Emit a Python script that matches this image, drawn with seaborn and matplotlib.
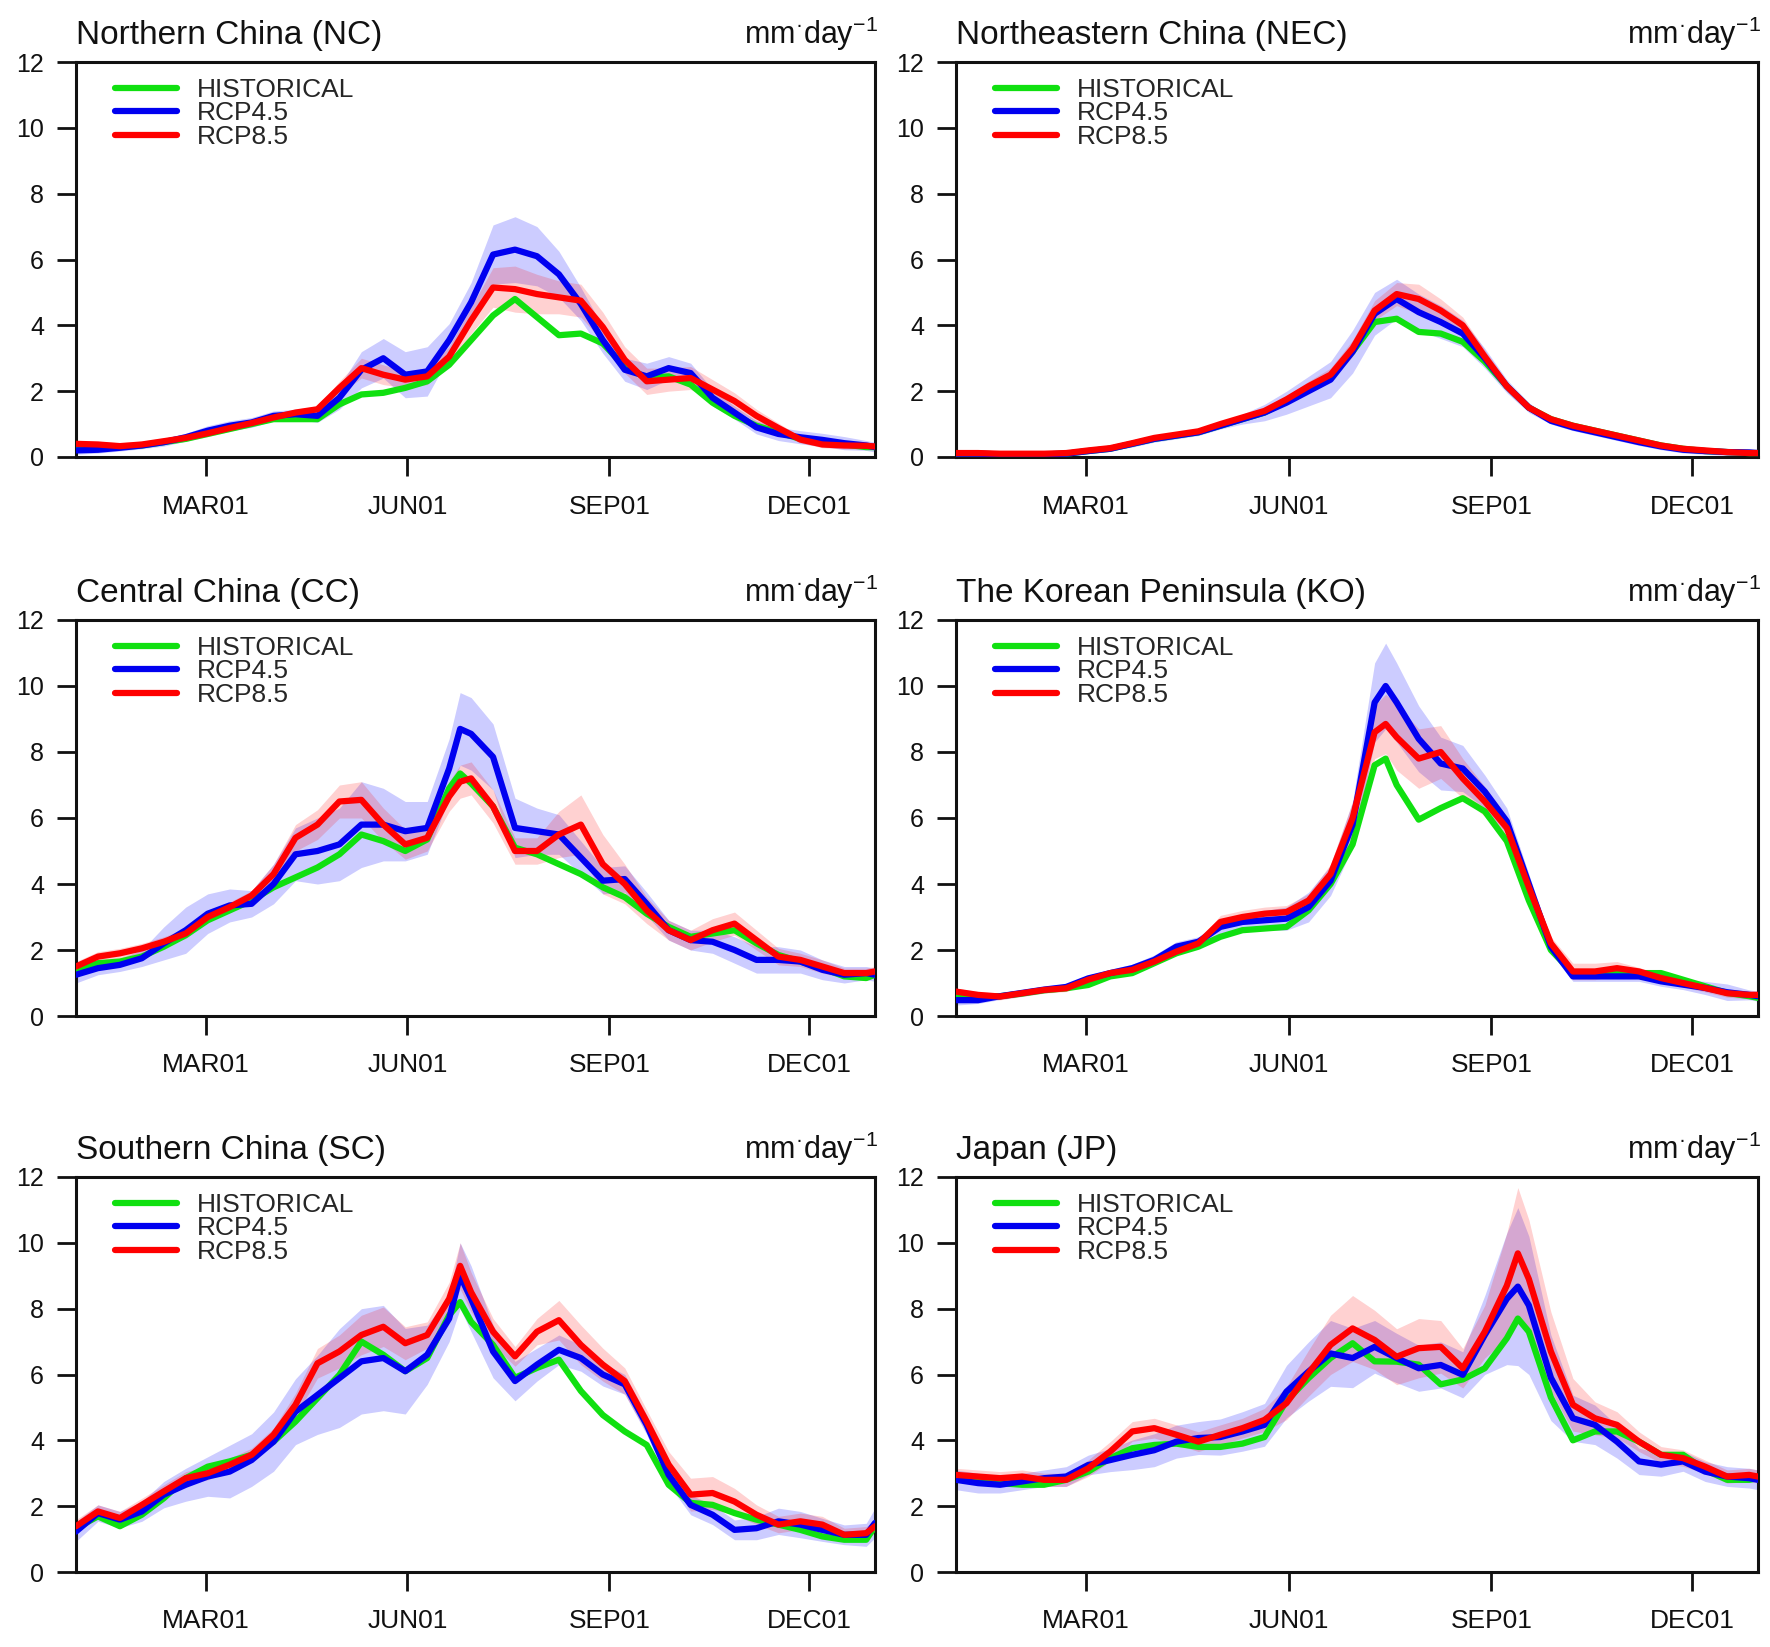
import numpy as np
import pandas as pd
import matplotlib
matplotlib.use("Agg")
import matplotlib.pyplot as plt
from matplotlib.lines import Line2D
import seaborn as sns

sns.set_style("ticks")
plt.rcParams["font.family"] = ["Liberation Sans", "DejaVu Sans"]
plt.rcParams["mathtext.fontset"] = "custom"
plt.rcParams["mathtext.rm"] = "Liberation Sans"
plt.rcParams["mathtext.default"] = "regular"

# ---------------- data (day of year, Jan01 = 0; values in mm/day) ----------------
SCENARIOS = ["HISTORICAL", "RCP4.5", "RCP8.5"]
COLORS = ["#10e010", "#0000f0", "#ff0000"]
TICK_DAYS = [59, 151, 243, 334]
TICK_LABELS = ["MAR01", "JUN01", "SEP01", "DEC01"]
Y_TICKS = [0, 2, 4, 6, 8, 10, 12]

DAYS = [0, 10, 20, 30, 40, 50, 60, 70, 80, 90, 100, 110, 120, 130, 140, 150, 160, 170,
        180, 190, 200, 210, 220, 230, 240, 250, 260, 270, 280, 290, 300, 310, 320, 330,
        340, 350, 360, 364]
DAYS_175 = [0, 10, 20, 30, 40, 50, 60, 70, 80, 90, 100, 110, 120, 130, 140, 150, 160, 170,
            175, 180, 190, 200, 210, 220, 230, 240, 250, 260, 270, 280, 290, 300, 310, 320,
            330, 340, 350, 360, 364]
DAYS_195 = [0, 10, 20, 30, 40, 50, 60, 70, 80, 90, 100, 110, 120, 130, 140, 150, 160, 170,
            180, 190, 195, 200, 210, 220, 230, 240, 250, 260, 270, 280, 290, 300, 310, 320,
            330, 340, 350, 360, 364]
DAYS_255 = [0, 10, 20, 30, 40, 50, 60, 70, 80, 90, 100, 110, 120, 130, 140, 150, 160, 170,
            180, 190, 200, 210, 220, 230, 240, 250, 255, 260, 270, 280, 290, 300, 310, 320,
            330, 340, 350, 360, 364]

# Northern China
nc_hist = [0.3, 0.3, 0.3, 0.35, 0.45, 0.55, 0.7, 0.85, 1.0, 1.15, 1.15, 1.15, 1.6, 1.9, 1.95, 2.1,
           2.3, 2.8, 3.55, 4.3, 4.8, 4.25, 3.7, 3.75, 3.45, 2.75, 2.4, 2.45, 2.2, 1.65, 1.25, 0.95,
           0.75, 0.55, 0.45, 0.38, 0.3, 0.3]
nc_rcp45 = [0.2, 0.22, 0.28, 0.35, 0.45, 0.6, 0.8, 0.95, 1.05, 1.25, 1.3, 1.25, 1.8, 2.65, 3.0, 2.5,
            2.6, 3.55, 4.7, 6.15, 6.3, 6.1, 5.55, 4.65, 3.55, 2.65, 2.45, 2.7, 2.55, 1.8, 1.35, 0.9,
            0.7, 0.6, 0.52, 0.42, 0.35, 0.3]
nc_rcp85 = [0.4, 0.38, 0.33, 0.38, 0.48, 0.58, 0.72, 0.88, 1.03, 1.2, 1.35, 1.45, 2.1, 2.7, 2.5, 2.35,
            2.45, 3.05, 4.15, 5.15, 5.1, 4.95, 4.85, 4.75, 3.95, 2.95, 2.3, 2.35, 2.4, 2.05, 1.7, 1.25,
            0.88, 0.53, 0.38, 0.35, 0.34, 0.32]
nc_sd45 = [0.12, 0.1, 0.1, 0.1, 0.12, 0.12, 0.15, 0.15, 0.15, 0.15, 0.15, 0.2, 0.35, 0.55, 0.6, 0.7,
           0.75, 0.5, 0.6, 0.9, 1.0, 0.9, 0.7, 0.5, 0.4, 0.35, 0.4, 0.35, 0.3, 0.25, 0.2, 0.2,
           0.2, 0.2, 0.2, 0.2, 0.15, 0.15]
nc_sd85 = [0.1, 0.1, 0.1, 0.1, 0.1, 0.1, 0.1, 0.1, 0.1, 0.1, 0.1, 0.1, 0.2, 0.3, 0.3, 0.25,
           0.25, 0.3, 0.4, 0.6, 0.7, 0.6, 0.5, 0.5, 0.45, 0.4, 0.4, 0.35, 0.35, 0.3, 0.25, 0.2,
           0.15, 0.1, 0.1, 0.1, 0.1, 0.1]

# Northeastern China
nec_hist = [0.1, 0.1, 0.08, 0.08, 0.08, 0.1, 0.18, 0.25, 0.4, 0.55, 0.65, 0.75, 0.95, 1.15, 1.35, 1.7,
            2.1, 2.45, 3.2, 4.1, 4.2, 3.8, 3.75, 3.5, 2.9, 2.15, 1.5, 1.15, 0.95, 0.8, 0.65, 0.5,
            0.35, 0.25, 0.18, 0.15, 0.12, 0.12]
nec_rcp45 = [0.1, 0.1, 0.08, 0.08, 0.08, 0.1, 0.18, 0.25, 0.4, 0.55, 0.65, 0.75, 0.95, 1.15, 1.35, 1.65,
             2.0, 2.35, 3.2, 4.35, 4.8, 4.4, 4.1, 3.75, 3.0, 2.15, 1.5, 1.1, 0.9, 0.75, 0.6, 0.45,
             0.32, 0.22, 0.18, 0.15, 0.14, 0.12]
nec_rcp85 = [0.12, 0.12, 0.1, 0.1, 0.1, 0.12, 0.2, 0.27, 0.42, 0.58, 0.68, 0.78, 1.0, 1.2, 1.4, 1.75,
             2.15, 2.5, 3.3, 4.45, 4.95, 4.8, 4.45, 4.0, 3.05, 2.15, 1.5, 1.15, 0.95, 0.8, 0.65, 0.5,
             0.35, 0.25, 0.2, 0.15, 0.12, 0.12]
nec_sd45 = [0.05, 0.05, 0.05, 0.05, 0.05, 0.05, 0.05, 0.05, 0.1, 0.1, 0.1, 0.1, 0.1, 0.15, 0.25, 0.35,
            0.45, 0.55, 0.65, 0.65, 0.6, 0.55, 0.5, 0.4, 0.3, 0.2, 0.15, 0.1, 0.1, 0.1, 0.1, 0.1,
            0.1, 0.1, 0.1, 0.1, 0.05, 0.05]
nec_sd85 = [0.05, 0.05, 0.05, 0.05, 0.05, 0.05, 0.05, 0.05, 0.05, 0.05, 0.05, 0.05, 0.05, 0.05, 0.05, 0.1,
            0.15, 0.2, 0.25, 0.3, 0.35, 0.45, 0.35, 0.25, 0.2, 0.15, 0.1, 0.1, 0.1, 0.1, 0.1, 0.1,
            0.1, 0.1, 0.1, 0.1, 0.1, 0.1]

# Central China (DAYS_175)
cc_hist = [1.4, 1.6, 1.65, 1.8, 2.1, 2.45, 2.9, 3.2, 3.5, 3.9, 4.2, 4.5, 4.9, 5.5, 5.3, 5.0, 5.35, 6.9,
           7.35, 7.05, 6.35, 5.1, 4.9, 4.6, 4.3, 3.9, 3.6, 3.1, 2.7, 2.4, 2.5, 2.6, 2.2, 1.85,
           1.65, 1.45, 1.2, 1.15, 1.25]
cc_rcp45 = [1.25, 1.45, 1.55, 1.75, 2.2, 2.6, 3.1, 3.35, 3.4, 4.0, 4.9, 5.0, 5.2, 5.8, 5.8, 5.6, 5.7, 7.5,
            8.7, 8.55, 7.85, 5.7, 5.6, 5.5, 4.8, 4.1, 4.15, 3.4, 2.6, 2.3, 2.25, 2.0, 1.7, 1.7,
            1.65, 1.4, 1.25, 1.3, 1.25]
cc_rcp85 = [1.5, 1.8, 1.9, 2.05, 2.25, 2.5, 3.0, 3.3, 3.65, 4.3, 5.4, 5.8, 6.5, 6.55, 5.8, 5.2, 5.4, 6.65,
            7.1, 7.2, 6.35, 5.0, 5.0, 5.5, 5.8, 4.6, 4.0, 3.2, 2.6, 2.3, 2.6, 2.8, 2.3, 1.8,
            1.7, 1.5, 1.3, 1.3, 1.35]
cc_sd45 = [0.25, 0.2, 0.2, 0.25, 0.5, 0.7, 0.6, 0.5, 0.4, 0.6, 0.8, 1.0, 1.1, 1.3, 1.1, 0.9, 0.8, 0.9,
           1.1, 1.1, 1.0, 0.9, 0.7, 0.6, 0.5, 0.4, 0.4, 0.35, 0.3, 0.3, 0.35, 0.4, 0.4, 0.4,
           0.35, 0.3, 0.25, 0.2, 0.2]
cc_sd85 = [0.15, 0.15, 0.15, 0.15, 0.15, 0.15, 0.15, 0.15, 0.15, 0.3, 0.4, 0.45, 0.5, 0.55, 0.5, 0.45, 0.4, 0.45,
           0.5, 0.5, 0.5, 0.4, 0.4, 0.7, 0.9, 0.9, 0.6, 0.4, 0.3, 0.3, 0.35, 0.35, 0.3, 0.25,
           0.2, 0.2, 0.15, 0.15, 0.15]

# The Korean Peninsula (DAYS_195)
ko_hist = [0.65, 0.6, 0.6, 0.68, 0.78, 0.84, 0.94, 1.2, 1.3, 1.6, 1.9, 2.1, 2.4, 2.6, 2.65, 2.7, 3.2, 4.0,
           5.2, 7.6, 7.8, 7.0, 5.95, 6.3, 6.6, 6.2, 5.3, 3.5, 2.0, 1.3, 1.3, 1.3, 1.3, 1.3,
           1.1, 0.9, 0.7, 0.6, 0.55]
ko_rcp45 = [0.48, 0.48, 0.6, 0.7, 0.8, 0.88, 1.14, 1.3, 1.45, 1.7, 2.1, 2.25, 2.7, 2.85, 2.9, 2.95, 3.3, 4.1,
            5.8, 9.5, 10.0, 9.5, 8.4, 7.65, 7.5, 6.8, 5.9, 4.0, 2.1, 1.2, 1.2, 1.2, 1.2, 1.05,
            0.95, 0.85, 0.72, 0.64, 0.6]
ko_rcp85 = [0.74, 0.64, 0.59, 0.69, 0.79, 0.84, 1.1, 1.3, 1.4, 1.65, 1.95, 2.2, 2.85, 3.0, 3.1, 3.15, 3.5, 4.3,
            6.0, 8.6, 8.85, 8.45, 7.8, 8.0, 7.2, 6.5, 5.7, 3.9, 2.2, 1.35, 1.35, 1.45, 1.35, 1.15,
            1.0, 0.85, 0.69, 0.64, 0.64]
ko_sd45 = [0.15, 0.1, 0.1, 0.1, 0.1, 0.1, 0.1, 0.12, 0.12, 0.15, 0.15, 0.15, 0.2, 0.25, 0.3, 0.35, 0.45, 0.45,
           0.7, 1.2, 1.3, 1.2, 1.0, 0.8, 0.7, 0.5, 0.4, 0.3, 0.2, 0.15, 0.15, 0.15, 0.15, 0.15,
           0.15, 0.2, 0.25, 0.15, 0.15]
ko_sd85 = [0.1, 0.1, 0.1, 0.1, 0.1, 0.1, 0.1, 0.1, 0.1, 0.1, 0.1, 0.1, 0.2, 0.2, 0.2, 0.2, 0.2, 0.3,
           0.5, 0.8, 0.9, 1.0, 0.9, 0.8, 0.6, 0.45, 0.35, 0.25, 0.2, 0.25, 0.25, 0.2, 0.12, 0.12,
           0.12, 0.12, 0.12, 0.12, 0.12]

# Southern China (DAYS_175)
sc_hist = [1.33, 1.69, 1.39, 1.74, 2.24, 2.85, 3.2, 3.36, 3.56, 3.96, 4.57, 5.28, 5.99, 7.0, 6.6, 6.1, 6.5, 7.8,
           8.2, 7.6, 6.9, 5.9, 6.2, 6.45, 5.5, 4.77, 4.27, 3.86, 2.65, 2.1, 2.04, 1.79, 1.59, 1.44,
           1.28, 1.08, 0.98, 0.98, 1.39]
sc_rcp45 = [1.23, 1.79, 1.59, 1.84, 2.35, 2.65, 2.9, 3.05, 3.4, 3.96, 4.87, 5.38, 5.89, 6.4, 6.5, 6.1, 6.6, 7.7,
            9.0, 8.3, 6.7, 5.8, 6.3, 6.75, 6.5, 6.0, 5.7, 4.47, 2.95, 2.04, 1.74, 1.28, 1.33, 1.54,
            1.44, 1.28, 1.13, 1.13, 1.49]
sc_rcp85 = [1.39, 1.84, 1.64, 2.04, 2.45, 2.85, 3.0, 3.26, 3.56, 4.17, 5.08, 6.34, 6.7, 7.2, 7.45, 6.95, 7.2, 8.3,
            9.3, 8.5, 7.3, 6.55, 7.3, 7.65, 6.9, 6.3, 5.8, 4.57, 3.26, 2.35, 2.4, 2.14, 1.74, 1.44,
            1.54, 1.44, 1.13, 1.18, 1.39]
sc_sd45 = [0.3, 0.25, 0.25, 0.3, 0.4, 0.5, 0.6, 0.8, 0.8, 0.9, 1.0, 1.2, 1.5, 1.6, 1.6, 1.3, 0.9, 0.7,
           1.0, 1.0, 0.8, 0.6, 0.5, 0.45, 0.4, 0.35, 0.3, 0.3, 0.3, 0.3, 0.3, 0.3, 0.35, 0.4,
           0.4, 0.35, 0.3, 0.35, 0.45]
sc_sd85 = [0.2, 0.2, 0.2, 0.2, 0.2, 0.2, 0.2, 0.2, 0.2, 0.2, 0.35, 0.45, 0.5, 0.6, 0.6, 0.5, 0.4, 0.5,
           0.7, 0.6, 0.4, 0.3, 0.4, 0.6, 0.6, 0.5, 0.4, 0.35, 0.4, 0.5, 0.5, 0.4, 0.3, 0.25,
           0.25, 0.25, 0.2, 0.2, 0.2]

# Japan (DAYS_255)
jp_hist = [2.85, 2.75, 2.7, 2.65, 2.65, 2.8, 3.05, 3.46, 3.76, 3.86, 3.9, 3.8, 3.8, 3.9, 4.1, 5.2, 5.89, 6.5,
           6.95, 6.4, 6.39, 6.3, 5.7, 5.85, 6.19, 7.1, 7.7, 7.3, 5.3, 4.0, 4.27, 4.27, 3.96, 3.56,
           3.56, 3.1, 2.8, 2.8, 2.85]
jp_rcp45 = [2.8, 2.7, 2.65, 2.75, 2.85, 2.9, 3.25, 3.4, 3.56, 3.7, 3.96, 4.07, 4.1, 4.27, 4.47, 5.48, 6.09, 6.64,
            6.5, 6.84, 6.5, 6.19, 6.29, 5.99, 7.2, 8.3, 8.67, 8.1, 5.9, 4.67, 4.47, 3.96, 3.36, 3.26,
            3.36, 3.05, 2.9, 2.85, 2.8]
jp_rcp85 = [2.95, 2.9, 2.85, 2.9, 2.8, 2.8, 3.15, 3.66, 4.27, 4.37, 4.17, 3.96, 4.17, 4.37, 4.62, 5.13, 6.04, 6.9,
            7.4, 7.05, 6.54, 6.8, 6.84, 6.19, 7.3, 8.7, 9.68, 8.9, 6.7, 5.08, 4.67, 4.47, 3.96, 3.56,
            3.46, 3.2, 2.9, 2.95, 2.9]
jp_sd45 = [0.3, 0.3, 0.25, 0.25, 0.25, 0.3, 0.3, 0.35, 0.45, 0.5, 0.5, 0.5, 0.55, 0.6, 0.65, 0.8, 0.9, 1.0,
           0.9, 0.8, 0.75, 0.7, 0.7, 0.7, 1.2, 2.0, 2.4, 2.1, 1.3, 0.7, 0.6, 0.5, 0.4, 0.35,
           0.3, 0.3, 0.3, 0.3, 0.3]
jp_sd85 = [0.2, 0.2, 0.2, 0.2, 0.2, 0.2, 0.25, 0.3, 0.3, 0.3, 0.3, 0.3, 0.3, 0.3, 0.35, 0.5, 0.7, 0.9,
           1.0, 0.9, 0.85, 0.9, 0.8, 0.6, 0.8, 1.6, 2.0, 1.8, 1.2, 0.8, 0.5, 0.4, 0.3, 0.25,
           0.25, 0.2, 0.2, 0.2, 0.2]

TITLES = ["Northern China (NC)", "Northeastern China (NEC)", "Central China (CC)",
          "The Korean Peninsula (KO)", "Southern China (SC)", "Japan (JP)"]
UNITS = "mm$^{\u00b7}$day$^{-1}$"

PANELS = [
    (TITLES[0], DAYS, nc_hist, nc_rcp45, nc_rcp85, nc_sd45, nc_sd85),
    (TITLES[1], DAYS, nec_hist, nec_rcp45, nec_rcp85, nec_sd45, nec_sd85),
    (TITLES[2], DAYS_175, cc_hist, cc_rcp45, cc_rcp85, cc_sd45, cc_sd85),
    (TITLES[3], DAYS_195, ko_hist, ko_rcp45, ko_rcp85, ko_sd45, ko_sd85),
    (TITLES[4], DAYS_175, sc_hist, sc_rcp45, sc_rcp85, sc_sd45, sc_sd85),
    (TITLES[5], DAYS_255, jp_hist, jp_rcp45, jp_rcp85, jp_sd45, jp_sd85),
]

# ---------------- layout ----------------
W, H = 1770, 1647
col_x = [(76, 875), (956, 1758)]
row_y = [(62, 457), (620, 1016), (1177, 1572)]

fig = plt.figure(figsize=(W / 100, H / 100), dpi=100)
fig.patch.set_facecolor("white")

for i, (title, days, hist, r45, r85, sd45, sd85) in enumerate(PANELS):
    for arr in (hist, r45, r85, sd45, sd85):
        assert len(arr) == len(days), (title, len(arr), len(days))
    r, c = divmod(i, 2)
    x0, x1 = col_x[c]
    y0, y1 = row_y[r]
    ax = fig.add_axes([x0 / W, 1 - y1 / H, (x1 - x0) / W, (y1 - y0) / H])

    d = np.array(days, dtype=float)
    a45, a85 = np.array(r45), np.array(r85)
    s45, s85 = np.array(sd45), np.array(sd85)
    ax.fill_between(d, a45 - s45, a45 + s45, color="#0000ff", alpha=0.2, lw=0, zorder=1)
    ax.fill_between(d, a85 - s85, a85 + s85, color="#ff0000", alpha=0.18, lw=0, zorder=1)

    df = pd.DataFrame({
        "day": list(days) * 3,
        "value": list(hist) + list(r45) + list(r85),
        "scenario": [s for s in SCENARIOS for _ in days],
    })
    sns.lineplot(data=df, x="day", y="value", hue="scenario", hue_order=SCENARIOS,
                 palette=dict(zip(SCENARIOS, COLORS)), estimator=None, lw=4.5,
                 legend=False, ax=ax, zorder=3)

    ax.set_xlim(0, 364)
    ax.set_ylim(0, 12)
    ax.set_xticks(TICK_DAYS)
    ax.set_xticklabels(TICK_LABELS)
    ax.set_yticks(Y_TICKS)
    ax.set_yticklabels([str(v) for v in Y_TICKS])
    ax.set_xlabel("")
    ax.set_ylabel("")
    for sp in ax.spines.values():
        sp.set_visible(True)
        sp.set_linewidth(2.2)
        sp.set_color("#111111")
    ax.tick_params(axis="x", direction="out", length=14, width=2, labelsize=19, pad=13,
                   colors="#111111", top=False)
    ax.tick_params(axis="y", direction="out", length=14, width=2, labelsize=18, pad=9,
                   colors="#111111", right=False)

    handles = [Line2D([0], [0], color=col, lw=4.5) for col in COLORS]
    ax.legend(handles, SCENARIOS, loc="upper left", bbox_to_anchor=(0.049, 0.96),
              frameon=False, fontsize=19, handlelength=2.35, handletextpad=0.75,
              labelspacing=-0.02, borderpad=0, borderaxespad=0)

    ax.annotate(title, xy=(0, 1), xycoords="axes fraction", xytext=(0, 13),
                textcoords="offset points", ha="left", va="baseline", fontsize=24,
                color="#111111")
    ax.annotate(UNITS, xy=(1, 1), xycoords="axes fraction", xytext=(2, 13),
                textcoords="offset points", ha="right", va="baseline", fontsize=22,
                color="#111111")

fig.savefig("out.png", dpi=100, facecolor="white")
